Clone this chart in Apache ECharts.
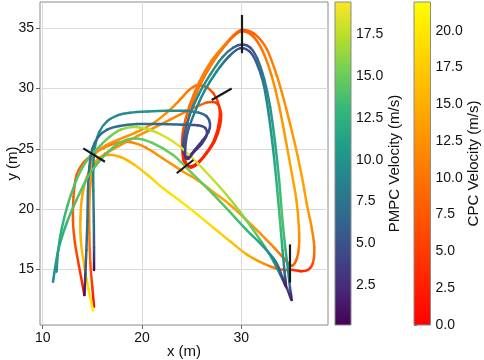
<!DOCTYPE html>
<html>
<head>
<meta charset="utf-8">
<script src="https://cdn.jsdelivr.net/npm/echarts@6.0.0/dist/echarts.min.js"></script>
<style>
  html, body { margin: 0; padding: 0; background: #fff; }
  #chart { width: 484px; height: 360px; }
</style>
</head>
<body>
<div id="chart"></div>
<script>
// trajectory points: [x (m), y (m), velocity (m/s)]
const pmpcA = [
  [15.17,14.94,0.5],[15.17,16.8,5],[15.15,19.0,7.5],[15.1,21.5,8.5],[15.1,23.6,9],[15.25,25.1,9.5],
  [15.7,26.4,9.5],[16.5,27.3,9.5],[17.6,27.8,9.5],[18.8,28.0,9.5],[20.6,28.1,10],[22.6,28.15,10],
  [24.4,28.15,9],[25.7,28.0,7.5],[26.5,27.7,6],[26.85,27.1,5],[26.7,26.4,4.5],[26.1,25.7,4],
  [25.3,24.9,3.5],[24.7,24.35,3],[24.35,24.4,3],[24.15,25.1,4],[24.3,26.3,6],[24.8,27.8,8],
  [25.7,29.5,9.5],[26.9,31.2,10],[28.1,32.6,9],[29.2,33.4,6.5],[30.1,33.65,5],[30.9,33.4,5],
  [31.6,32.5,6.5],[32.3,30.8,8.5],[32.9,28.5,10],[33.4,25.5,11.5],[33.8,22.5,13],[34.1,19.5,14],
  [34.4,17.0,13],[34.7,15.0,10],[34.9,13.5,5.5],[35.07,12.45,1.5],
  [34.6,13.4,4],[33.9,14.6,8],[32.8,16.3,12],[31.0,18.5,15],[28.8,20.9,17],[26.3,23.2,18],
  [23.8,25.2,18.5],[21.5,26.35,18],[19.4,26.8,17],[17.9,26.6,16],[16.75,26.0,15],[15.6,25.1,14.5],
  [14.7,24.3,14.5],[13.9,23.3,14.5],[13.2,22.0,14],[12.5,20.3,13.5],[11.9,18.3,12.5],[11.55,16.5,11],
  [11.4,14.8,9.5]
];
const pmpcB = [
  [14.2,12.87,0.5],[14.3,14.6,4],[14.4,16.6,6.5],[14.5,19.0,7.5],[14.56,21.5,7.5],[14.7,23.5,7.5],
  [15.0,25.0,7.5],[15.6,26.0,7],[16.5,26.6,7],[17.75,26.9,7],[19.5,27.05,7],[21.8,27.05,7],
  [24.0,27.0,6.5],[25.6,26.95,5],[26.4,26.7,4],[26.5,26.1,3.5],[26.0,25.4,3],[25.3,24.8,2.5],
  [24.7,24.2,2.5],[24.4,24.3,3],[24.35,25.0,4],[24.6,26.4,6],[25.3,28.0,8.5],[26.3,29.8,9.5],
  [27.5,31.4,9],[28.8,32.7,6.5],[29.9,33.35,4.5],[30.8,33.1,4.5],[31.5,32.2,6],[32.2,30.5,8],
  [32.7,28.2,9.5],[33.2,25.0,11],[33.6,21.8,12.5],[33.9,19.0,13.5],[34.15,16.6,12],[34.35,14.8,7],
  [34.5,13.6,1.5],
  [34.1,14.4,4],[33.5,15.6,8],[32.2,16.9,11],[30.5,18.3,13],[28.8,19.8,14],[27.2,21.2,14.5],
  [25.0,23.0,15],[23.1,24.5,15],[21.0,25.5,15],[19.3,25.85,14.5],[17.75,25.5,14.5],[16.4,24.6,14],
  [15.4,23.65,14],[14.56,22.7,14],[13.4,20.75,14],[12.4,18.8,13],[11.57,16.6,11.5],[11.04,13.97,9]
];
const cpcA = [
  [15.17,11.9,0.5],[15.0,13.5,4.5],[14.8,15.5,8],[14.7,18.0,10.5],[14.7,20.5,12],[14.9,22.6,12.5],
  [15.4,23.9,12.5],[16.3,24.6,12.5],[17.6,25.2,12.5],[19.4,26.0,12.5],[21.1,26.7,12],[22.8,27.4,11.5],
  [24.3,28.05,10.5],[25.5,28.5,9],[26.6,28.85,7],[27.5,28.8,5],[27.95,28.0,4],[27.85,26.9,3.5],
  [27.35,25.7,3],[26.5,24.6,3],[25.6,23.75,2.5],[24.9,23.45,2.5],[24.4,23.9,3],[24.25,25.1,4.5],
  [24.5,26.85,7],[25.2,29.05,9.5],[26.3,31.0,10.5],[27.4,32.5,10.5],[28.5,33.7,9.5],[29.3,34.4,8.5],
  [30.04,34.75,8],[31.1,34.4,8.5],[32.1,33.2,10],[33.0,31.2,11.5],[33.8,28.6,12.5],[34.5,25.6,13.5],
  [35.1,22.9,14],[35.55,20.75,14],[35.8,18.5,13],[35.8,16.8,11],[35.5,15.7,8.5],[35.0,15.3,7.5],
  [34.3,15.9,9],[33.3,16.8,11],[32.0,17.9,12.5],[30.5,19.1,13.5],[28.8,20.4,14],[27.2,21.4,14],
  [25.6,22.4,13.5],[24.15,23.1,13],[22.1,24.2,12.5],[20.4,25.1,12],[18.9,25.55,11.5],[17.5,25.5,11],
  [16.2,25.1,10],[15.0,24.5,9],[14.05,23.8,8.5],[13.4,22.8,8],[13.1,21.0,8],[13.05,19.0,7.5],
  [13.25,17.2,6.5],[13.65,15.3,5],[14.2,12.87,1.5]
];
const cpcB = [
  [14.85,22.4,12.5],[14.75,23.5,12.5],[15.3,24.6,12.5],[16.4,25.3,12.5],[17.75,25.8,12.5],[19.5,26.4,12.5],
  [21.1,27.1,12.5],[22.5,28.0,12],[23.8,29.05,11],[24.7,29.85,10],[25.5,30.25,9],[26.4,30.15,7.5],
  [27.2,29.6,6],[27.75,28.6,4.5],[27.8,27.4,3.5],[27.3,25.8,3],[26.5,24.7,3],[25.6,23.85,2.5],
  [24.8,23.55,2.5],[24.2,24.0,3],[24.05,25.2,4.5],[24.15,26.6,7],[24.8,28.6,9.5],[25.8,30.6,10.5],
  [27.0,32.3,11],[28.2,33.5,10.5],[29.2,34.4,9],[30.04,34.86,8],[31.3,34.55,8.5],[32.55,33.3,10],
  [33.6,31.0,11.5],[34.5,28.4,12.5],[35.4,25.4,13.5],[36.1,22.7,14],[36.6,20.4,13.5],[37.1,18.4,12],
  [37.35,16.8,10],[37.2,15.5,7],[36.7,14.95,4],[36.0,14.85,3],[35.2,14.95,4.5],[34.4,14.95,7],
  [33.6,15.05,9.5],[32.2,15.5,12.5],[30.6,16.2,15],[28.9,17.3,17],[27.2,18.45,18.5],[25.5,19.6,19.5],
  [23.8,20.7,19.5],[22.15,21.7,19],[20.6,22.8,18],[19.2,23.7,16.5],[17.9,24.3,15],[16.6,24.5,14],
  [15.5,24.1,13.5],[14.6,23.0,13.5],[14.0,21.2,14],[13.8,19.2,14.5],[13.85,17.3,15.5],[14.2,15.2,17],
  [14.6,13.4,19],[15.07,11.57,21]
];
// gates: [x1, y1, x2, y2]
const gates = [
  [14.09,25.04,16.27,23.93],
  [23.5,22.97,25.17,24.07],
  [27.02,29.05,29.03,30.0],
  [30.04,36.1,30.04,32.93],
  [34.92,17.07,34.92,13.89]
];
const xTicks = [10, 20, 30];
const yTicks = [15, 20, 25, 30, 35];
const pmpcTicks = [2.5, 5, 7.5, 10, 12.5, 15, 17.5];
const cpcTicks = [0, 2.5, 5, 7.5, 10, 12.5, 15, 17.5, 20];
const pmpcRange = [0.1, 19.45];
const cpcRange = [0, 21.95];

const viridis = ['#440154','#482878','#3e4989','#31688e','#26828e','#1f9e89','#35b779','#6ece58','#b5de2b','#fde725'];
const autumn = ['#ff0000', '#ffff00'];
const FONT = 'Liberation Sans, Arial, sans-serif';

function colorAt(v, range, stops) {
  let t = (v - range[0]) / (range[1] - range[0]);
  t = Math.min(1, Math.max(0, t));
  return echarts.color.lerp(t, stops);
}

// one smooth, velocity-coloured segment per point (Catmull-Rom -> bezier)
function trajSeries(name, pts, range, stops) {
  return {
    type: 'custom',
    name: name,
    xAxisIndex: 0,
    yAxisIndex: 0,
    clip: true,
    silent: true,
    data: pts,
    encode: { x: 0, y: 1 },
    renderItem: function (params, api) {
      const i = params.dataIndex, n = pts.length;
      if (i >= n - 1) return null;
      const P = k => {
        const p = pts[Math.max(0, Math.min(n - 1, k))];
        return api.coord([p[0], p[1]]);
      };
      const p0 = P(i - 1), p1 = P(i), p2 = P(i + 1), p3 = P(i + 2);
      const c1 = colorAt(pts[i][2], range, stops);
      const c2 = colorAt(pts[i + 1][2], range, stops);
      return {
        type: 'bezierCurve',
        shape: {
          x1: p1[0], y1: p1[1], x2: p2[0], y2: p2[1],
          cpx1: p1[0] + (p2[0] - p0[0]) / 6, cpy1: p1[1] + (p2[1] - p0[1]) / 6,
          cpx2: p2[0] - (p3[0] - p1[0]) / 6, cpy2: p2[1] - (p3[1] - p1[1]) / 6
        },
        style: {
          fill: null,
          stroke: new echarts.graphic.LinearGradient(p1[0], p1[1], p2[0], p2[1],
            [{ offset: 0, color: c1 }, { offset: 1, color: c2 }], true),
          lineWidth: 2.5,
          lineCap: 'round'
        }
      };
    }
  };
}

// colour bar filled into its own grid
function barSeries(idx, stops) {
  return {
    type: 'custom',
    xAxisIndex: idx,
    yAxisIndex: idx,
    silent: true,
    data: [[0.5, 1]],
    renderItem: function (params) {
      const cs = params.coordSys;
      return {
        type: 'rect',
        shape: { x: cs.x, y: cs.y, width: cs.width, height: cs.height },
        style: {
          fill: new echarts.graphic.LinearGradient(0, 1, 0, 0,
            stops.map((c, k) => ({ offset: k / (stops.length - 1), color: c }))),
          stroke: '#8a8a8a',
          lineWidth: 1
        }
      };
    }
  };
}

function barAxis(idx, range, ticks, name) {
  return {
    gridIndex: idx,
    type: 'value',
    position: 'right',
    min: range[0],
    max: range[1],
    axisLine: { show: false },
    axisTick: { show: true, length: 3, customValues: ticks, lineStyle: { color: '#666' } },
    axisLabel: { customValues: ticks, formatter: v => v.toFixed(1), fontSize: 14, color: '#111', margin: 5, fontFamily: FONT },
    splitLine: { show: false },
    name: name,
    nameLocation: 'middle',
    nameRotate: 90,
    nameGap: 33,
    nameTextStyle: { fontSize: 15, color: '#111', fontFamily: FONT }
  };
}

const chart = echarts.init(document.getElementById('chart'));
chart.setOption({
  animation: false,
  backgroundColor: '#fff',
  grid: [
    { left: 40, top: 2, width: 288, height: 323, outerBoundsMode: 'none', containLabel: false,
      show: true, borderColor: '#8a8a8a', borderWidth: 1, backgroundColor: 'transparent' },
    { left: 335, top: 2, width: 16, height: 323, outerBoundsMode: 'none', containLabel: false },
    { left: 414, top: 2, width: 16.5, height: 323, outerBoundsMode: 'none', containLabel: false }
  ],
  xAxis: [
    {
      gridIndex: 0, type: 'value', min: 9.73, max: 38.73,
      axisLine: { show: false },
      axisTick: { show: true, length: 4, customValues: xTicks, lineStyle: { color: '#666' } },
      axisLabel: { customValues: xTicks, fontSize: 14, color: '#111', margin: 6, fontFamily: FONT },
      splitLine: { show: true, lineStyle: { color: '#dadada', width: 1 } },
      name: 'x (m)', nameLocation: 'middle', nameGap: 19, nameMoveOverlap: false,
      nameTextStyle: { fontSize: 15, color: '#111', fontFamily: FONT }
    },
    { gridIndex: 1, type: 'value', min: 0, max: 1, show: false },
    { gridIndex: 2, type: 'value', min: 0, max: 1, show: false }
  ],
  yAxis: [
    {
      gridIndex: 0, type: 'value', min: 10.38, max: 37.18,
      axisLine: { show: false },
      axisTick: { show: true, length: 4, customValues: yTicks, lineStyle: { color: '#666' } },
      axisLabel: { customValues: yTicks, fontSize: 14, color: '#111', margin: 6, fontFamily: FONT },
      splitLine: { show: true, lineStyle: { color: '#dadada', width: 1 } },
      name: 'y (m)', nameLocation: 'middle', nameGap: 20, nameRotate: 90, nameMoveOverlap: false,
      nameTextStyle: { fontSize: 15, color: '#111', fontFamily: FONT }
    },
    barAxis(1, pmpcRange, pmpcTicks, 'PMPC Velocity (m/s)'),
    barAxis(2, cpcRange, cpcTicks, 'CPC Velocity (m/s)')
  ],
  series: [
    trajSeries('CPC run A', cpcA, cpcRange, autumn),
    trajSeries('CPC run B', cpcB, cpcRange, autumn),
    trajSeries('PMPC run A', pmpcA, pmpcRange, viridis),
    trajSeries('PMPC run B', pmpcB, pmpcRange, viridis),
    {
      type: 'lines',
      name: 'gates',
      coordinateSystem: 'cartesian2d',
      xAxisIndex: 0,
      yAxisIndex: 0,
      z: 10,
      silent: true,
      lineStyle: { color: '#1a1a1a', width: 2.2, opacity: 1 },
      data: gates.map(g => ({ coords: [[g[0], g[1]], [g[2], g[3]]] }))
    },
    barSeries(1, viridis),
    barSeries(2, autumn)
  ]
});
</script>
</body>
</html>
